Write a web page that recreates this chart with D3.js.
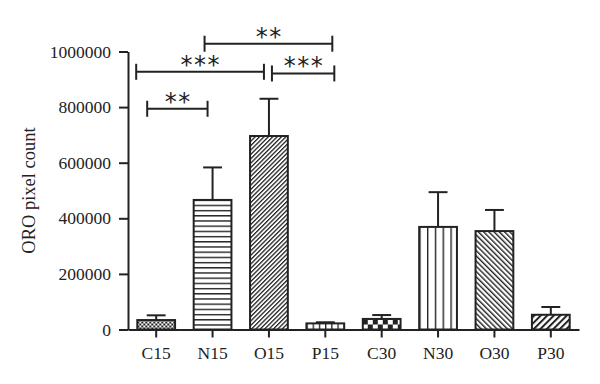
<!DOCTYPE html>
<html>
<head>
<meta charset="utf-8">
<script src="https://cdn.jsdelivr.net/npm/d3@7"></script>
<style>
  body { margin: 0; background: #fff; }
  svg text { font-family: "Liberation Serif", "Times New Roman", serif; fill: #222; }
  .axis path, .axis line { stroke: #222; stroke-width: 2; }
</style>
</head>
<body>
<script>
// data
var categories = ['C15', 'N15', 'O15', 'P15', 'C30', 'N30', 'O30', 'P30'];
var means = [34000, 466000, 696000, 22000, 38000, 369000, 354000, 53000];
var sems = [17000, 117000, 134000, 4000, 14000, 125000, 76000, 28000];
var yTicks = [0, 200000, 400000, 600000, 800000, 1000000];

// significance comparisons
var compFrom = ['C15', 'C15', 'O15', 'N15'];
var compTo = ['N15', 'O15', 'P15', 'P15'];
var compLevel = [794000, 927000, 921000, 1028000];
var compLabel = ['**', '***', '***', '**'];

// look of each bar: hatch kind, spacing, line width
var fills = [
  {kind: 'checker', s: 2},
  {kind: 'lines', s: 5.2, a: 90, w: 1.4},
  {kind: 'lines', s: 3.1, a: 45, w: 1.3},
  {kind: 'lines', s: 6.2, a: 0, w: 1.3},
  {kind: 'checker', s: 5},
  {kind: 'lines', s: 7.8, a: 0, w: 1.4},
  {kind: 'lines', s: 3.7, a: -45, w: 1.4},
  {kind: 'lines', s: 4.6, a: 45, w: 2}
];
// hand-placed bracket end nudges (px from the category centre)
var nudgeFrom = [-9, -20, 3, -8];
var nudgeTo = [-5, -5, 9, 7];

var w = 600;
var h = 384;
var ink = '#222';

var svg = d3.select('body')
  .append('svg')
  .attr('width', w)
  .attr('height', h);

svg.append('rect').attr('width', w).attr('height', h).attr('fill', '#fff');

var x = d3.scaleBand()
  .domain(categories)
  .range([128, 579])
  .paddingInner(0.33)
  .paddingOuter(0.165);

var y = d3.scaleLinear()
  .domain([0, 1000000])
  .range([329.5, 51.5]);

// patterns
var defs = svg.append('defs');
fills.forEach(function(f, i) {
  var c = categories[i];
  var p = defs.append('pattern')
    .attr('id', 'pat' + i)
    .attr('patternUnits', 'userSpaceOnUse');
  if (f.kind === 'checker') {
    p.attr('x', x(c)).attr('y', y(0))
      .attr('width', f.s * 2).attr('height', f.s * 2);
    p.append('rect').attr('width', f.s * 2).attr('height', f.s * 2).attr('fill', '#fff');
    p.append('rect').attr('width', f.s).attr('height', f.s).attr('fill', ink);
    p.append('rect').attr('x', f.s).attr('y', f.s).attr('width', f.s).attr('height', f.s).attr('fill', ink);
  } else {
    p.attr('x', x(c)).attr('y', y(0))
      .attr('width', f.s).attr('height', f.s)
      .attr('patternTransform', 'rotate(' + f.a + ' ' + x(c) + ' ' + y(0) + ')');
    p.append('rect').attr('width', f.s).attr('height', f.s).attr('fill', '#fff');
    p.append('line')
      .attr('x1', 0).attr('y1', -1).attr('x2', 0).attr('y2', f.s + 1)
      .attr('stroke', ink).attr('stroke-width', f.w * 2);
  }
});

// error bars
var eb = svg.append('g')
  .attr('stroke', ink)
  .attr('stroke-width', 2)
  .attr('fill', 'none');

categories.forEach(function(c, i) {
  var cx = x(c) + x.bandwidth() / 2;
  var capW = x.bandwidth() / 2;
  eb.append('line')
    .attr('x1', cx).attr('x2', cx)
    .attr('y1', y(means[i])).attr('y2', y(means[i] + sems[i]));
  eb.append('line')
    .attr('x1', cx - capW / 2).attr('x2', cx + capW / 2)
    .attr('y1', y(means[i] + sems[i])).attr('y2', y(means[i] + sems[i]));
});

// bars
svg.selectAll('rect.bar')
  .data(means)
  .enter()
  .append('rect')
  .attr('class', 'bar')
  .attr('x', function(d, i) { return x(categories[i]); })
  .attr('y', function(d) { return y(d); })
  .attr('width', x.bandwidth())
  .attr('height', function(d) { return y(0) - y(d); })
  .attr('fill', function(d, i) { return 'url(#pat' + i + ')'; })
  .attr('stroke', ink)
  .attr('stroke-width', 2);

// axes
var yAxis = d3.axisLeft(y)
  .tickValues(yTicks)
  .tickFormat(d3.format('d'))
  .tickSize(9)
  .tickSizeOuter(0)
  .tickPadding(8);

svg.append('g')
  .attr('class', 'axis')
  .attr('transform', 'translate(128,0)')
  .call(yAxis)
  .call(function(g) {
    g.selectAll('text').style('font-size', '17.5px').attr('fill', ink);
  });

var xAxis = d3.axisBottom(x)
  .tickSize(8)
  .tickSizeOuter(0)
  .tickPadding(9);

svg.append('g')
  .attr('class', 'axis')
  .attr('transform', 'translate(0,' + y(0) + ')')
  .call(xAxis)
  .call(function(g) {
    g.selectAll('text').style('font-size', '17.5px').attr('fill', ink);
  });

svg.append('text')
  .attr('transform', 'translate(35,' + (y(0) + y(1000000)) / 2 + ') rotate(-90)')
  .attr('text-anchor', 'middle')
  .style('font-size', '18.5px')
  .text('ORO pixel count');

// significance brackets
var br = svg.append('g');
compFrom.forEach(function(a, i) {
  var x0 = x(a) + x.bandwidth() / 2 + nudgeFrom[i];
  var x1 = x(compTo[i]) + x.bandwidth() / 2 + nudgeTo[i];
  var yy = y(compLevel[i]);
  var g = br.append('g').attr('stroke', ink).attr('stroke-width', 2);
  g.append('line').attr('x1', x0).attr('x2', x1).attr('y1', yy).attr('y2', yy);
  g.append('line').attr('x1', x0).attr('x2', x0).attr('y1', yy - 8).attr('y2', yy + 8);
  g.append('line').attr('x1', x1).attr('x2', x1).attr('y1', yy - 8).attr('y2', yy + 8);
  br.append('text')
    .attr('x', (x0 + x1) / 2 + 0.75)
    .attr('y', yy + 1)
    .attr('text-anchor', 'middle')
    .style('font-family', '"DejaVu Sans", sans-serif')
    .style('font-size', '24px')
    .style('letter-spacing', '1.5px')
    .attr('fill', '#333')
    .text(compLabel[i]);
});
</script>
</body>
</html>
